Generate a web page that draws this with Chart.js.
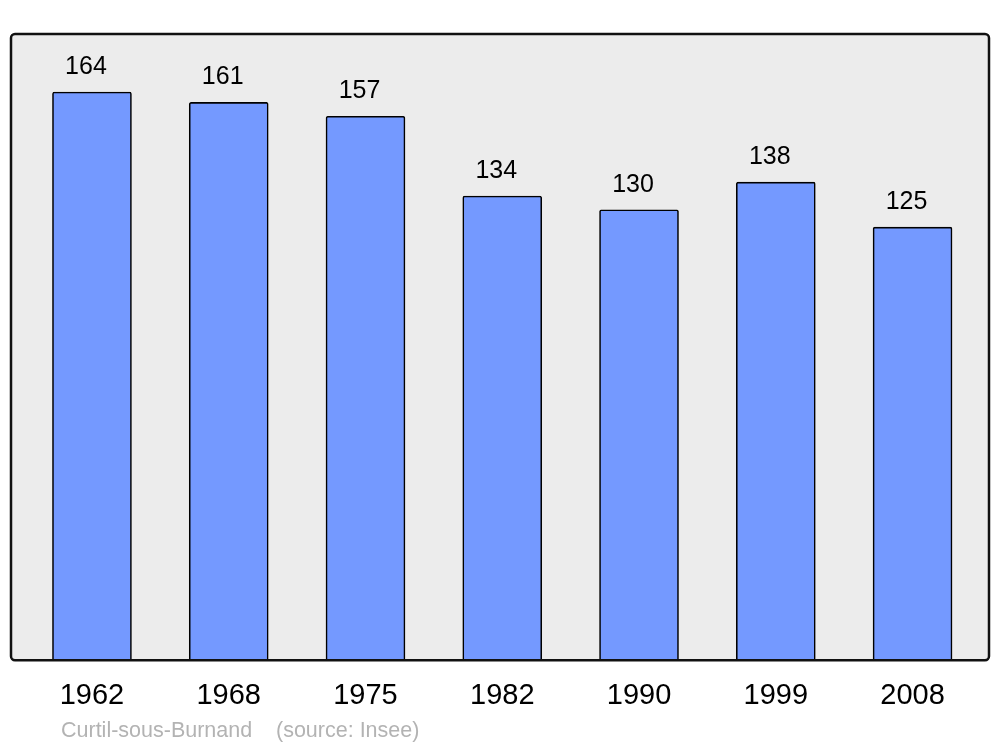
<!DOCTYPE html>
<html>
<head>
<meta charset="utf-8">
<script src="https://cdn.jsdelivr.net/npm/chart.js@4/dist/chart.umd.min.js"></script>
<style>
  html, body { margin: 0; padding: 0; background: #fff; }
  #wrap { width: 1000px; height: 747px; }
</style>
</head>
<body>
<div id="wrap"><canvas id="popChart"></canvas></div>
<script>
// Data
const years = ['1962', '1968', '1975', '1982', '1990', '1999', '2008'];
const population = [164, 161, 157, 134, 130, 138, 125];
const placeName = 'Curtil-sous-Burnand';
const sourceText = '(source: Insee)';

// grey framed box behind the bars
const framePlugin = {
    id: 'frame',
    beforeDatasetsDraw(chart) {
        const { ctx, chartArea: a } = chart;
        ctx.save();
        ctx.beginPath();
        ctx.roundRect(a.left, a.top, a.right - a.left, a.bottom - a.top, 4);
        ctx.fillStyle = '#ececec';
        ctx.fill();
        ctx.restore();
    },
    afterDatasetsDraw(chart) {
        const { ctx, chartArea: a } = chart;
        ctx.save();
        ctx.beginPath();
        ctx.roundRect(a.left, a.top, a.right - a.left, a.bottom - a.top, 4);
        ctx.lineWidth = 2.5;
        ctx.strokeStyle = '#111';
        ctx.stroke();
        ctx.restore();
    }
};

// numbers above bars + footer caption
const labelsPlugin = {
    id: 'valueLabels',
    afterDraw(chart) {
        const ctx = chart.ctx;
        const meta = chart.getDatasetMeta(0);
        ctx.save();
        ctx.font = '25px "Liberation Sans", Arial, sans-serif';
        ctx.fillStyle = '#000';
        ctx.textAlign = 'center';
        ctx.textBaseline = 'alphabetic';
        meta.data.forEach((bar, i) => {
            // labels sit a little left of the bar centre in the original
            ctx.fillText(population[i], bar.x - 6, bar.y - 18);
        });

        ctx.font = '21.5px "Liberation Sans", Arial, sans-serif';
        ctx.fillStyle = '#b3b3b3';
        ctx.textAlign = 'left';
        ctx.fillText(placeName, 61, 737);
        ctx.fillText(sourceText, 276, 737);
        ctx.restore();
    }
};

const ctx = document.getElementById('popChart').getContext('2d');
new Chart(ctx, {
    type: 'bar',
    data: {
        datasets: [{
            data: population.map((v, i) => ({ x: i, y: v })),
            backgroundColor: '#7499ff',
            borderColor: '#000',
            borderWidth: 1.6,
            borderRadius: { topLeft: 2, topRight: 2 },
            borderSkipped: 'bottom',
            barThickness: 79
        }]
    },
    options: {
        responsive: true,
        maintainAspectRatio: false,
        animation: false,
        layout: { padding: { left: 11, right: 11, top: 34, bottom: 24 } },
        plugins: {
            legend: { display: false },
            tooltip: { enabled: false }
        },
        scales: {
            x: {
                type: 'linear',
                offset: false,
                min: -0.592,
                max: 6.559,
                grid: { display: false, offset: false },
                border: { display: false },
                afterBuildTicks: axis => {
                    axis.ticks = years.map((_, i) => ({ value: i }));
                },
                ticks: {
                    padding: 10,
                    color: '#000',
                    font: { family: '"Liberation Sans", Arial, sans-serif', size: 29 },
                    maxRotation: 0,
                    callback: v => years[v]
                }
            },
            y: {
                display: false,
                min: 0,
                max: 180.75
            }
        }
    },
    plugins: [framePlugin, labelsPlugin]
});
</script>
</body>
</html>
